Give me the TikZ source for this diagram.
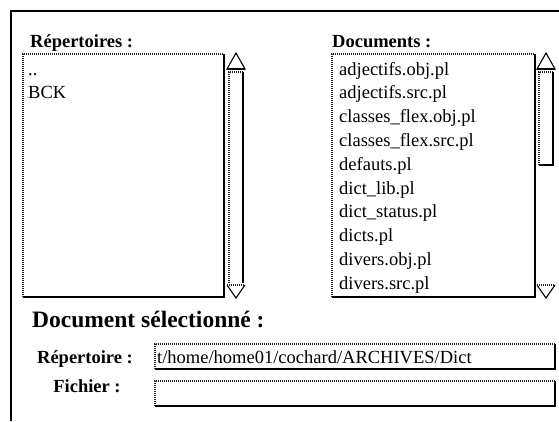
\documentclass[tikz,border=0pt]{standalone}
\usepackage{fontspec}
\setmainfont{Liberation Serif}
\begin{document}
\begin{tikzpicture}[x=1pt,y=-1pt,
  lite/.style={draw=black!85, line width=2pt, dash pattern=on 1pt off 1pt},
  dark/.style={draw=black, line width=2pt},
  frame/.style={draw=black, line width=2pt},
  arrowtri/.style={draw=black, line width=1.1pt, line join=miter},
  item/.style={anchor=base west, inner sep=0pt, font=\fontsize{18.5}{20}\selectfont},
  lbl/.style={inner sep=0pt, font=\fontsize{18.5}{20}\selectfont\bfseries},
  title/.style={anchor=base west, inner sep=0pt, font=\fontsize{23.5}{26}\selectfont\bfseries}]
\useasboundingbox (0,0) rectangle (559,421);
\fill[white] (0,0) rectangle (559,421);
% outer window frame
\draw[frame] (11,421) -- (11,11) -- (559,11);
% labels
\node[lbl, anchor=base west] (lrep) at (30,47) {Répertoires :};
\node[lbl, anchor=base west] (ldoc) at (332,47) {Documents :};
% left list box
\draw[lite] (23,297) |- (224,54);
\draw[dark] (23,297) -| (224,54);
\node[item] (d0) at (28,75) {..};
\node[item] (d1) at (28,98) {BCK};
% left scrollbar
\draw[arrowtri] (227,69) -- (236,53) -- (245,69) -- cycle;
\draw[dark] (227,69) -- (245,69);
\draw[lite] (229,283) |- (243,72);
\draw[dark] (243,72) -- (243,283);
\draw[arrowtri] (227,285) -- (236,298) -- (245,285);
\draw[lite] (227,285) -- (245,285);
% right list box
\draw[lite] (332,297) |- (535,54);
\draw[dark] (332,297) -| (535,54);
\foreach \t [count=\i from 0] in {adjectifs.obj.pl, adjectifs.src.pl, classes\_flex.obj.pl, classes\_flex.src.pl, defauts.pl, dict\_lib.pl, dict\_status.pl, dicts.pl, divers.obj.pl, divers.src.pl}
  \node[item] (f\i) at (339,75+23.8*\i) {\t};
% right scrollbar
\draw[arrowtri] (537,69) -- (546,53) -- (555,69) -- cycle;
\draw[dark] (537,69) -- (555,69);
\draw[lite] (539,165) |- (553,72);
\draw[dark] (539,165) -| (553,72);
\draw[arrowtri] (537,285) -- (546,298) -- (555,285);
\draw[lite] (537,285) -- (555,285);
% selected document
\node[title] (tsel) at (32,327) {Document sélectionné :};
\node[lbl, anchor=base] (lr) at (85,363) {Répertoire :};
\node[lbl, anchor=base] (lf) at (87,392) {Fichier :};
\draw[lite] (155,369) |- (555,344);
\draw[dark] (155,369) -| (555,344);
\node[item] (path) at (157,363) {t/home/home01/cochard/ARCHIVES/Dict};
\draw[lite] (155,406) |- (555,381);
\draw[dark] (155,406) -| (555,381);
\end{tikzpicture}
\end{document}
